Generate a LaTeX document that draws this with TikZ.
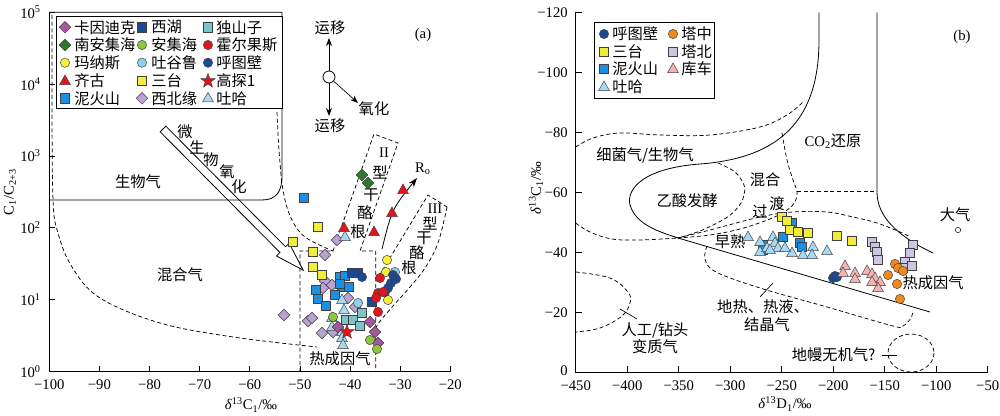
\documentclass[tikz,border=0pt]{standalone}
\usepackage{fontspec}
\setmainfont{Liberation Serif}
\newfontfamily\cjk[Scale=1.04]{Noto Sans CJK SC}
\usepackage{xcolor}
\usetikzlibrary{calc}
\usetikzlibrary{positioning}
\usetikzlibrary{arrows.meta}

\definecolor{kayin}{HTML}{A7579F}
\definecolor{xihu}{HTML}{1C4896}
\definecolor{dushan}{HTML}{7DC3CB}
\definecolor{nanan}{HTML}{2F7A2A}
\definecolor{anji}{HTML}{8CC63E}
\definecolor{huoer}{HTML}{E3141B}
\definecolor{manas}{HTML}{F5EE3A}
\definecolor{tugu}{HTML}{8ECFEF}
\definecolor{santai}{HTML}{F2EC3A}
\definecolor{nihuo}{HTML}{1A8FE3}
\definecolor{xibei}{HTML}{B8A3D3}
\definecolor{tuha}{HTML}{A8D8F3}
\definecolor{tazh}{HTML}{F08B1B}
\definecolor{tabei}{HTML}{CCC6E2}
\definecolor{kuche}{HTML}{F5B3B3}

\tikzset{
  bnd/.style={line width=0.6pt},
  dsh/.style={line width=0.55pt,dash pattern=on 3pt off 2pt},
  mk/.style={draw=black!75,line width=0.35pt},
  zh/.style={font=\fontsize{11}{13}\cjk},
  tkl/.style={inner sep=0pt},
  lgt/.style={zh,anchor=west,inner sep=0pt},
  pics/sqm/.style={code={\path[mk,fill=#1] (-4.6,-4.6) rectangle (4.6,4.6);}},
  pics/cim/.style={code={\path[mk,fill=#1] (0,0) circle (3.5pt);}},
  pics/dim/.style={code={\path[mk,fill=#1] (0,-5.8) -- (5.8,0) -- (0,5.8) -- (-5.8,0) -- cycle;}},
  pics/trm/.style={code={\path[mk,fill=#1] (0,-6) -- (5.4,3.6) -- (-5.4,3.6) -- cycle;}},
  pics/stm/.style={code={\path[mk,fill=#1] (-90:7.5) -- (-54:3) -- (-18:7.5) -- (18:3) -- (54:7.5) -- (90:3) -- (126:7.5) -- (162:3) -- (198:7.5) -- (234:3) -- cycle;}},
}

\begin{document}
\begin{tikzpicture}[x=0.75pt,y=-0.75pt,font=\fontsize{11}{13}\selectfont]
\useasboundingbox (0,0) rectangle (1000,416);

% ===== (a) C1/C2+3 against d13C1 =====
\draw[bnd] (49.3,12.3) -- (282,12.3) -- (282,176) .. controls (282,192) and (276,200) .. (262,200) -- (49.3,200);
\draw[dsh] plot[smooth,tension=0.6] coordinates {(52,15) (52,100) (53,200) (58,233) (72,267) (100,298) (160,323) (233,337) (317,347)};
\draw[dsh] plot[smooth,tension=0.6] coordinates {(277,112) (279,150) (283,190) (291,218) (305,237) (333,251)};
\draw[dsh] (300,371.7) -- (300,251) -- (333,251) -- (374,134) -- (398,143) -- (360,251) -- (375.7,251) -- (375.7,371.7);
\draw[dsh] (379,276) -- (428,195) -- (447,207);
\draw[dsh] plot[smooth,tension=0.6] coordinates {(447,207) (438,243) (425,268) (410,287) (393,306) (378,324) (376,332)};

% microbial oxidation arrow
\begin{scope}[shift={(163,129)},rotate=-45.2]
\draw[bnd] (0,-4) -- (170,-4) -- (170,-9) -- (199,0) -- (170,9) -- (170,4) -- (0,4) -- cycle;
\end{scope}

% Ro arrow
\coordinate (ro0) at (382,249);
\coordinate (ro1) at (417,178);
\draw[bnd,-{Stealth[length=7pt,width=5pt]}] (ro0) .. controls (392,209) .. (ro1);
\node (ro) at (423,169) {R\textsubscript{o}};

% migration / oxidation sign
\node[draw,circle,bnd,minimum size=9pt,inner sep=0pt] (oc) at (329,77) {};
\coordinate (up) at (329,38);
\coordinate (dn) at (329,116);
\coordinate (ox) at (358,103);
\draw[bnd,-{Stealth[length=6pt,width=4.5pt]}] (oc) -- (up);
\draw[bnd,-{Stealth[length=6pt,width=4.5pt]}] (oc) -- (dn);
\draw[line width=0.5pt,-{Stealth[length=6pt,width=4.5pt]}] (oc) -- (ox);
\node[zh] (mig1) at (330,28) {运移};
\node[zh] (mig2) at (330,126) {运移};
\node[zh] (oxi) at (374,109) {氧化};
\node (pa) at (423,35) {(a)};

% region labels
\node[zh] (bio) at (138,182) {生物气};
\node[zh] (mix) at (180,275) {混合气};
\node[zh] (thm) at (340,359) {热成因气};
\node[zh] (w1) at (185,132) {微};
\node[zh] (w2) at (197,147) {生};
\node[zh] (w3) at (211,160) {物};
\node[zh] (w4) at (227,172) {氧};
\node[zh] (w5) at (239,187) {化};
\node (k2) at (384,153) {II};
\node[zh] (k2a) at (380,172) {型};
\node[zh] (k2b) at (371,195) {干};
\node[zh] (k2c) at (365,213) {酪};
\node[zh] (k2d) at (358,232) {根};
\node (k3) at (435,209) {III};
\node[zh] (k3a) at (430,223) {型};
\node[zh] (k3b) at (424,238) {干};
\node[zh] (k3c) at (417,253) {酪};
\node[zh] (k3d) at (409,268) {根};

% data (a)
\foreach \x/\y in {337/240,325/255,284/315,308/321,312/318,322/333,333/332,325/281,323/288,332/285,348/298,355/307}
  \pic at (\x,\y) {dim=xibei};
\foreach \x/\y in {304/198,340/277,345/276,342/287,349/287,316/290,318/299,326/306,335/295,340/284}
  \pic at (\x,\y) {sqm=nihuo};
\foreach \x/\y in {293/242,318/227,313/252,313/267,322/275}
  \pic at (\x,\y) {sqm=santai};
\foreach \x/\y in {352/273,358/273,372/302}
  \pic at (\x,\y) {sqm=xihu};
\foreach \x/\y in {346/320,353/320,362/313,360/326}
  \pic at (\x,\y) {sqm=dushan};
\foreach \x/\y in {345/237,342/300,344/310,332/318,332/327,342/332,342/338,343/345}
  \pic at (\x,\y) {trm=tuha};
\foreach \x/\y in {370/322,375/332,378/343,338/327}
  \pic at (\x,\y) {dim=kayin};
\foreach \x/\y in {362/175,368/183}
  \pic at (\x,\y) {dim=nanan};
\foreach \x/\y in {333/317,370/340,377/349}
  \pic at (\x,\y) {cim=anji};
\foreach \x/\y in {387/260,386/272,388/300}
  \pic at (\x,\y) {cim=manas};
\foreach \x/\y in {358/303,395/272}
  \pic at (\x,\y) {cim=tugu};
\foreach \x/\y in {362/277,393/275,396/279,391/283,388/288,385/292}
  \pic at (\x,\y) {cim=xihu};
\foreach \x/\y in {380/278,378/293,383/292,376/298,378/312}
  \pic at (\x,\y) {cim=huoer};
\foreach \x/\y in {344/228,374/232,392/213,403/190}
  \pic at (\x,\y) {trm=huoer};
\pic at (347,332) {stm=huoer};

% axes (a)
\draw[bnd] (49.3,12.3) -- (49.3,371.7) -- (450,371.7);
\foreach \v in {100,90,...,20} {
  \pgfmathsetmacro{\px}{49.3+(100-\v)*5.0125}
  \draw[bnd] (\px,371.7) -- (\px,366);
  \node[tkl] (ax\v) at (\px,385) {−\v};
}
\foreach \k in {0,...,5} {
  \pgfmathsetmacro{\py}{371.7-71.9*\k}
  \draw[bnd] (49.3,\py) -- (55,\py);
  \node[tkl,anchor=east] (ay\k) at (41,\py) {10\textsuperscript{\k}};
}
\node (xa) at (251,405) {\textit{δ}\textsuperscript{13}C\textsubscript{1}/‰};
\node[rotate=90] (ya) at (10,192) {C\textsubscript{1}/C\textsubscript{2+3}};

% legend (a)
\draw[bnd,fill=white] (56,16) rectangle (282,108);
\pic at (65,27.3) {dim=kayin};   \node[lgt] (la1) at (74,27.3) {卡因迪克};
\pic at (142,27.3) {sqm=xihu};   \node[lgt] (la2) at (151,27.3) {西湖};
\pic at (208,27.3) {sqm=dushan}; \node[lgt] (la3) at (216,27.3) {独山子};
\pic at (65,45) {dim=nanan};     \node[lgt] (la4) at (74,45) {南安集海};
\pic at (142,45) {cim=anji};     \node[lgt] (la5) at (151,45) {安集海};
\pic at (208,45) {cim=huoer};    \node[lgt] (la6) at (216,45) {霍尔果斯};
\pic at (65,62.7) {cim=manas};   \node[lgt] (la7) at (74,62.7) {玛纳斯};
\pic at (142,62.7) {cim=tugu};   \node[lgt] (la8) at (151,62.7) {吐谷鲁};
\pic at (208,62.7) {cim=xihu};   \node[lgt] (la9) at (216,62.7) {呼图壁};
\pic at (65,81) {trm=huoer};     \node[lgt] (la10) at (74,81) {齐古};
\pic at (142,81) {sqm=santai};   \node[lgt] (la11) at (151,81) {三台};
\pic at (208,81) {stm=huoer};    \node[lgt] (la12) at (216,81) {高探1};
\pic at (65,98.3) {sqm=nihuo};   \node[lgt] (la13) at (74,98.3) {泥火山};
\pic at (142,98.3) {dim=xibei};  \node[lgt] (la14) at (151,98.3) {西北缘};
\pic at (208,98.3) {trm=tuha};   \node[lgt] (la15) at (216,98.3) {吐哈};

% ===== (b) d13C1 against dD1 =====
\draw[bnd] (819,12.3) -- (819,40) .. controls (819,120) and (780,158) .. (700,164)
  .. controls (645,168) and (626,188) .. (630,205)
  .. controls (636,225) and (660,232) .. (678,238) -- (930,312);
\draw[bnd] (877,12.3) -- (877,192) .. controls (877,215) and (895,235) .. (933,253);
\draw[dsh] plot[smooth,tension=0.6] coordinates {(575.7,147) (593,138) (620,133) (660,135) (710,135) (760,127) (787,115) (803,102)};
\draw[dsh] plot[smooth,tension=0.6] coordinates {(575.7,223) (590,232) (612,239) (640,240) (678,238)};
\draw[dsh] plot[smooth,tension=0.6] coordinates {(718,163) (735,172) (744,185) (744,195) (739,206) (726,218) (700,231) (678,238)};
\draw[dsh] plot[smooth,tension=0.6] coordinates {(782,133) (787,160) (793,180) (797,192) (795,202) (787,210) (770,219) (740,229) (710,235) (678,238)};
\draw[dsh] (797,191) -- (877,191);
\draw[dsh] plot[smooth,tension=0.6] coordinates {(678,238) (710,230) (760,217) (793,212) (827,212) (853,217) (877,223) (900,232) (910,237)};
\draw[dsh] plot[smooth,tension=0.6] coordinates {(707,246) (705,259) (716,272) (760,288) (827,307) (893,326) (903,326) (911,318) (913,310)};
\draw[dsh] plot[smooth,tension=0.6] coordinates {(575.7,272) (610,278) (628,292) (630,303) (622,316) (600,328) (575.7,332)};
\draw[dsh] (911,353) ellipse [x radius=23,y radius=19];

% leaders
\coordinate (gt1) at (773,283);
\coordinate (gt2) at (760,297);
\draw[line width=0.5pt] (gt1) -- (gt2);
\coordinate (rg1) at (620,309);
\coordinate (rg2) at (637,319);
\draw[line width=0.5pt] (rg1) -- (rg2);
\coordinate (mt1) at (882,355);
\coordinate (mt2) at (897,355);
\draw[line width=0.5pt] (mt1) -- (mt2);
\node[draw,circle,line width=0.4pt,minimum size=4pt,inner sep=0pt] (atm) at (958,230) {};

% region labels (b)
\node[zh] (bact) at (645,155) {细菌气/生物气};
\node (co2) at (833,141) {CO\textsubscript{2}{\fontsize{11}{13}\cjk 还原}};
\node[zh] (mixb) at (765,180) {混合};
\node[zh] (ace) at (687,201) {乙酸发酵};
\node[zh] (tr1) at (760,212) {过};
\node[zh] (tr2) at (777,204) {渡};
\node[zh] (early) at (730,242) {早熟};
\node[zh] (thmb) at (933,283) {热成因气};
\node[zh] (geo1) at (763,307) {地热、热液、};
\node[zh] (geo2) at (767,325) {结晶气};
\node[zh] (art1) at (655,330) {人工/钻头};
\node[zh] (art2) at (655,347) {变质气};
\node[zh,anchor=east] (mant) at (880,355) {地幔无机气?};
\node[zh] (air) at (955,215) {大气};
\node (pb) at (962,37) {(b)};

% data (b)
\foreach \x/\y in {792/223,783/237,763/245,763/250,800/243,802/247}
  \pic at (\x,\y) {sqm=nihuo};
\foreach \x/\y in {782/217,787/221,790/230,798/232,808/233,837/236,852/241}
  \pic at (\x,\y) {sqm=santai};
\foreach \x/\y in {748/237,760/242,760/252,767/248,773/237,775/243,778/248,792/253,803/255,813/247,812/255,827/251,785/248,770/250}
  \pic at (\x,\y) {trm=tuha};
\foreach \x/\y in {872/242,875/247,877/252,878/260,913/245,910/253,905/262,912/266,903/268}
  \pic at (\x,\y) {sqm=tabei};
\foreach \x/\y in {833/278,835/276,837/277}
  \pic at (\x,\y) {cim=xihu};
\foreach \x/\y in {845/266,843/273,855/273,855/279,867/271,872/274,875/278,880/282,878/288,872/282}
  \pic at (\x,\y) {trm=kuche};
\foreach \x/\y in {895/264,898/268,903/271,888/275,897/284,900/299}
  \pic at (\x,\y) {cim=tazh};

% axes (b)
\draw[bnd] (575.7,12.3) -- (575.7,372.3) -- (987.7,372.3);
\foreach \v in {450,400,...,50} {
  \pgfmathsetmacro{\px}{575.7+(450-\v)*1.03}
  \draw[bnd] (\px,372.3) -- (\px,366.5);
  \node[tkl] (bx\v) at (\px,385.5) {−\v};
}
\foreach \v in {120,100,...,0} {
  \pgfmathsetmacro{\py}{372.3-3*\v}
  \draw[bnd] (575.7,\py) -- (581.5,\py);
  \node[tkl,anchor=east] (by\v) at (568,\py) {\ifnum\v=0 \raisebox{2pt}{0}\else −\v\fi};
}
\node (xb) at (785,404) {\textit{δ}\textsuperscript{13}D\textsubscript{1}/‰};
\node[rotate=90] (yb) at (536,188) {\textit{δ}\textsuperscript{13}C\textsubscript{1}/‰};

% legend (b)
\draw[bnd,fill=white] (594,22) rectangle (714,98);
\pic at (604,34) {cim=xihu};   \node[lgt] (lb1) at (612,34) {呼图壁};
\pic at (673,34) {cim=tazh};   \node[lgt] (lb2) at (681,34) {塔中};
\pic at (604,52) {sqm=santai}; \node[lgt] (lb3) at (612,52) {三台};
\pic at (673,52) {sqm=tabei};  \node[lgt] (lb4) at (681,52) {塔北};
\pic at (604,69) {sqm=nihuo};  \node[lgt] (lb5) at (612,69) {泥火山};
\pic at (673,69) {trm=kuche};  \node[lgt] (lb6) at (681,69) {库车};
\pic at (604,87) {trm=tuha};   \node[lgt] (lb7) at (612,87) {吐哈};
\end{tikzpicture}
\end{document}
